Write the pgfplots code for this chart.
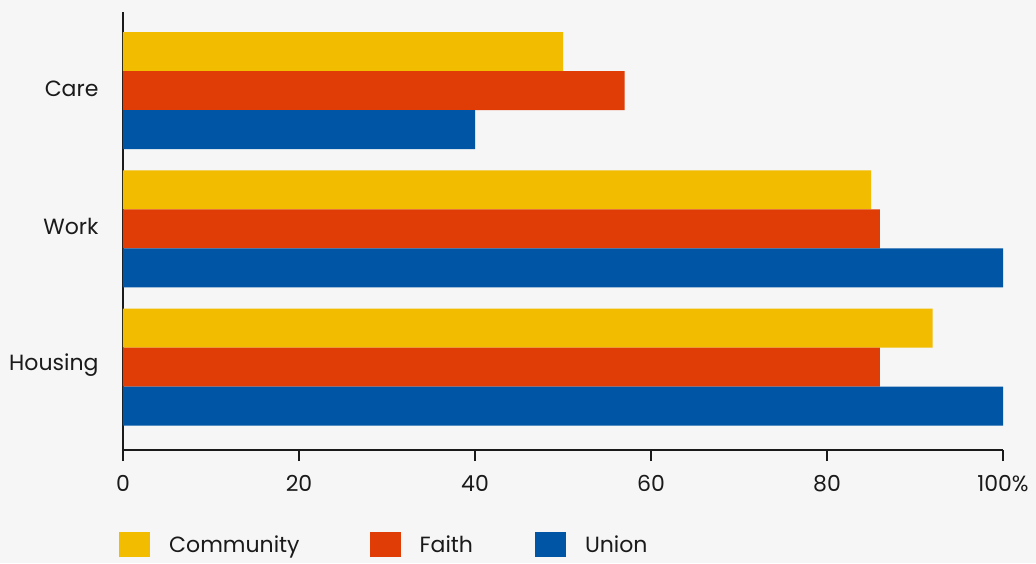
\documentclass[border=0pt]{standalone}
\usepackage{fontspec}
\setmainfont{Poppins}
\usepackage{pgfplots}
\pgfplotsset{compat=1.18}
\definecolor{bg}{HTML}{F6F6F6}
\definecolor{comm}{HTML}{F2BC00}
\definecolor{faith}{HTML}{E03C06}
\definecolor{union}{HTML}{0056A4}
\definecolor{ink}{HTML}{1A1A1A}
\begin{document}
\begin{tikzpicture}
\fill[bg] (-123pt,-113pt) rectangle (913pt,450pt);
\begin{axis}[
    at={(0,0)}, anchor=south west,
    scale only axis,
    width=880pt, height=438pt,
    xbar, bar width=39pt,
    xmin=0, xmax=100,
    ymin=-0.6, ymax=2.568,
    axis x line*=bottom, axis y line*=left,
    axis line style={draw=ink, line width=1.1pt, -},
    xtick={0,20,40,60,80,100},
    xticklabels={0,20,40,60,80,100\%},
    ytick={0,1,2},
    yticklabels={Housing,Work,Care},
    tick align=outside,
    major tick length=11pt,
    x tick style={draw=ink, line width=1.1pt},
    y tick style={draw=none},
    /pgf/number format/assume math mode=true,
    tick label style={font=\fontsize{22}{26}\selectfont, text=ink},
    xticklabel style={yshift=-11pt},
    yticklabel style={xshift=-10pt, yshift=2pt},
    legend style={at={(axis description cs:-0.0045,-0.2165)}, anchor=west,
        draw=none, fill=none, font=\fontsize{22}{26}\selectfont, text=ink,
        legend columns=-1, inner sep=0pt,
        nodes={inner sep=0pt},
        /tikz/every odd column/.append style={column sep=19pt},
        /tikz/column 2/.style={column sep=70pt},
        /tikz/column 4/.style={column sep=62pt}},
    legend image code/.code={\fill[#1,draw=none] (0pt,-12pt) rectangle (31pt,13pt);},
]
\addplot[fill=comm, draw=none, bar shift=39pt] coordinates {(92,0) (85,1) (50,2)};
\addplot[fill=faith, draw=none, bar shift=0pt] coordinates {(86,0) (86,1) (57,2)};
\addplot[fill=union, draw=none, bar shift=-39pt] coordinates {(100,0) (100,1) (40,2)};
\legend{Community,Faith,Union}
\end{axis}
\pgfresetboundingbox
\path[use as bounding box] (-123pt,-113pt) rectangle (913pt,450pt);
\end{tikzpicture}
\end{document}
